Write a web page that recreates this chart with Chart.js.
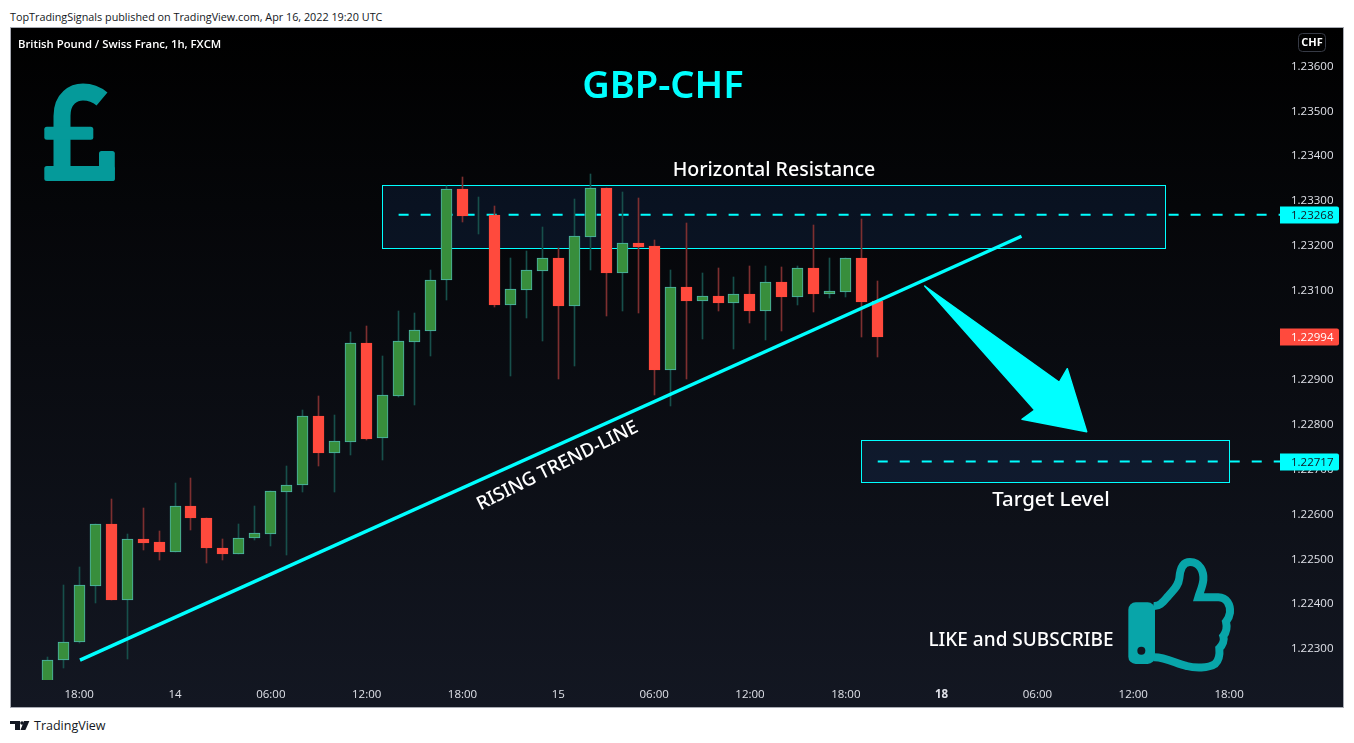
<!DOCTYPE html>
<html lang="en">
<head>
    <meta charset="UTF-8">
    <title>GBP-CHF</title>
    <style>
        body {
            margin: 0;
            background: #ffffff;
            font-family: "Open Sans", sans-serif;
            overflow: hidden;
        }

        .published {
            position: absolute;
            left: 10px;
            top: 9px;
            font-size: 10.8px;
            line-height: 15px;
            color: #131722;
            white-space: nowrap;
        }

        .pane {
            position: absolute;
            left: 10px;
            top: 27px;
            width: 1332px;
            height: 679px;
            border: 1px solid #a8abb3;
            background: linear-gradient(180deg, #000000 0%, #131722 100%);
        }

        .brand {
            position: absolute;
            left: 34px;
            top: 717px;
            font-size: 12.5px;
            line-height: 17px;
            color: #131722;
        }

        canvas, svg {
            position: absolute;
            left: 0;
            top: 0;
        }
    </style>
    <script src="https://cdn.jsdelivr.net/npm/chart.js"></script>
</head>
<body>
    <div class="published">TopTradingSignals published on TradingView.com, Apr 16, 2022 19:20 UTC</div>
    <div class="pane"></div>
    <div class="brand">TradingView</div>
    <svg width="1354" height="743">
        <!-- pound sign -->
        <g fill="#059a9a">
            <path d="M62 167 V116 C62 98 74 92 83 92 C90 92 96 94 102 99" fill="none" stroke="#059a9a" stroke-width="17"/>
            <rect x="44.3" y="126.7" width="49" height="13" rx="2.5"/>
            <rect x="44.3" y="166" width="70.5" height="15" rx="2.5"/>
            <rect x="99" y="151" width="15.8" height="30" rx="2.5"/>
        </g>
        <!-- thumbs up -->
        <g transform="translate(1120,540) scale(0.3333)">
            <path d="M100 198 C120 200 130 185 145 168 C160 150 175 140 178 115 C180 85 190 66 210 66 C240 66 252 95 250 120 C248 140 240 155 235 172 L295 172 C320 172 332 195 330 218 C328 232 322 240 318 245 C322 262 318 278 310 288 C314 300 308 315 298 325 C300 345 296 362 285 372 C265 385 225 385 200 378 C170 372 135 350 100 352"
                  fill="none" stroke="#08a5a9" stroke-width="24"/>
            <rect x="25" y="187" width="80" height="185" rx="22" fill="#08a5a9"/>
            <circle cx="64" cy="332" r="12" fill="#121620"/>
        </g>
        <!-- logo -->
        <g fill="#131722">
            <path d="M10 721 H20 V730 H15 V724 H10 Z"/>
            <circle cx="22" cy="723" r="1.8"/>
            <path d="M24 721 H29.4 L25.4 730 H20.5 Z"/>
        </g>
    </svg>
    <canvas id="chart" width="1354" height="743"></canvas>

    <script>
        // hourly candles
        const opens = [1.22207,1.22274,1.22314,1.22440,1.22577,1.22409,1.22544,1.22537,1.22516,1.22617,1.22590,1.22524,1.22511,1.22546,1.22556,1.22650,1.22664,1.22818,1.22737,1.22761,1.22981,1.22769,1.22864,1.22985,1.23009,1.23122,1.23325,1.23267,1.23267,1.23067,1.23101,1.23143,1.23171,1.23065,1.23219,1.23327,1.23139,1.23204,1.23198,1.22922,1.23106,1.23076,1.23086,1.23072,1.23090,1.23054,1.23117,1.23085,1.23148,1.23092,1.23096,1.23171,1.23075];
        const highs = [1.22280,1.22442,1.22482,1.22578,1.22633,1.22555,1.22613,1.22562,1.22669,1.22680,1.22591,1.22544,1.22578,1.22618,1.22652,1.22707,1.22832,1.22863,1.22821,1.23006,1.23020,1.22953,1.23053,1.23049,1.23145,1.23333,1.23352,1.23308,1.23288,1.23171,1.23187,1.23241,1.23193,1.23303,1.23359,1.23327,1.23318,1.23305,1.23212,1.23145,1.23250,1.23138,1.23149,1.23129,1.23154,1.23154,1.23151,1.23154,1.23245,1.23171,1.23171,1.23258,1.23120];
        const lows = [1.22200,1.22257,1.22311,1.22402,1.22409,1.22277,1.22520,1.22498,1.22516,1.22565,1.22491,1.22498,1.22511,1.22543,1.22529,1.22509,1.22648,1.22708,1.22650,1.22732,1.22765,1.22721,1.22861,1.22844,1.22953,1.23078,1.23252,1.23226,1.23063,1.22909,1.23038,1.22987,1.22902,1.22931,1.23145,1.23043,1.23054,1.23049,1.22866,1.22840,1.22902,1.22991,1.23054,1.22969,1.23027,1.22989,1.23009,1.23067,1.23052,1.23083,1.23085,1.22994,1.22951];
        const closes = [1.22274,1.22314,1.22441,1.22577,1.22409,1.22544,1.22536,1.22516,1.22617,1.22590,1.22523,1.22511,1.22546,1.22557,1.22651,1.22664,1.22818,1.22737,1.22762,1.22981,1.22768,1.22865,1.22986,1.23010,1.23122,1.23325,1.23266,1.23268,1.23067,1.23102,1.23144,1.23171,1.23065,1.23220,1.23327,1.23139,1.23204,1.23196,1.22922,1.23106,1.23076,1.23086,1.23072,1.23090,1.23054,1.23117,1.23085,1.23148,1.23092,1.23097,1.23171,1.23074,1.22994];

        const xTickPositions = [2, 8, 14, 20, 26, 32, 38, 44, 50, 56, 62, 68, 74];
        const xTickLabels = ['18:00', '14', '06:00', '12:00', '18:00', '15', '06:00', '12:00', '18:00', '18', '06:00', '12:00', '18:00'];
        const yTicks = [1.223, 1.224, 1.225, 1.226, 1.227, 1.228, 1.229, 1.230, 1.231, 1.232, 1.233, 1.234, 1.235, 1.236];

        // drawings on the chart
        const resistanceZone = { x0: 20.93, x1: 70, top: 1.23335, bottom: 1.23194 };
        const targetZone = { x0: 50.93, x1: 74, top: 1.22765, bottom: 1.22671 };
        const resistancePrice = 1.23268;
        const targetPrice = 1.22717;
        const lastPrice = 1.22994;
        const trendX = [2.05, 61];
        const trendY = [1.22274, 1.23220];

        const green = '#388e3c', greenEdge = '#4db6ac', greenWick = '#174f4b';
        const red = '#ff4a3d', redWick = '#7d2f30';
        const cyan = '#00ffff';
        const uiFont = '"Open Sans", sans-serif';
        const notoFont = '"Noto Sans", sans-serif';
        const isUp = i => closes[i] >= opens[i];

        // zones go under the candles, texts and price tags on top of everything
        const drawings = {
            id: 'drawings',
            afterDatasetsUpdate(chart) {
                // keep candles on whole pixels like the original
                chart.data.datasets.forEach((ds, d) => {
                    if (ds.type !== 'bar') return;
                    chart.getDatasetMeta(d).data.forEach(el => {
                        el.x = Math.floor(el.x) + 0.5;
                        el.y = Math.round(el.y);
                        el.base = Math.round(el.base);
                    });
                });
            },
            beforeDatasetsDraw(chart) {
                const { ctx, scales: { x, y } } = chart;
                ctx.save();
                [resistanceZone, targetZone].forEach(z => {
                    const l = Math.round(x.getPixelForValue(z.x0)) + 0.5;
                    const r = Math.round(x.getPixelForValue(z.x1)) + 0.5;
                    const t = Math.round(y.getPixelForValue(z.top)) + 0.5;
                    const b = Math.round(y.getPixelForValue(z.bottom)) + 0.5;
                    ctx.fillStyle = 'rgba(40,100,200,0.13)';
                    ctx.fillRect(l, t, r - l, b - t);
                    ctx.strokeStyle = cyan;
                    ctx.lineWidth = 1;
                    ctx.strokeRect(l, t, r - l, b - t);
                });
                ctx.restore();
            },
            afterDraw(chart) {
                const { ctx, scales: { y } } = chart;
                ctx.save();

                // arrow
                ctx.fillStyle = cyan;
                ctx.strokeStyle = cyan;
                ctx.lineWidth = 1.5;
                ctx.lineJoin = 'round';
                ctx.beginPath();
                ctx.moveTo(924.7, 286);
                ctx.lineTo(1059.3, 382.3);
                ctx.lineTo(1067.3, 368.7);
                ctx.lineTo(1086.7, 431.7);
                ctx.lineTo(1022, 419.3);
                ctx.lineTo(1034.7, 410);
                ctx.closePath();
                ctx.fill();
                ctx.stroke();

                // price tags
                const tag = (value, bg, fg) => {
                    const py = Math.round(y.getPixelForValue(value));
                    ctx.fillStyle = bg;
                    ctx.beginPath();
                    ctx.roundRect(1280, py - 8.5, 59, 17, [0, 2, 2, 0]);
                    ctx.fill();
                    ctx.fillStyle = fg;
                    ctx.font = '11.5px ' + uiFont;
                    ctx.textAlign = 'left';
                    ctx.textBaseline = 'middle';
                    ctx.fillText(value.toFixed(5), 1291, py + 1);
                };
                tag(resistancePrice, cyan, '#131722');
                tag(targetPrice, cyan, '#131722');
                tag(lastPrice, red, '#ffffff');

                // currency button
                ctx.strokeStyle = '#363a45';
                ctx.lineWidth = 1;
                ctx.beginPath();
                ctx.roundRect(1298.5, 33.5, 27, 18, 4);
                ctx.stroke();

                const label = (text, px, py, font, color, align) => {
                    ctx.font = font;
                    ctx.fillStyle = color;
                    ctx.textAlign = align || 'center';
                    ctx.textBaseline = 'middle';
                    ctx.fillText(text, px, py);
                };
                label('CHF', 1312, 42.5, 'bold 11px ' + uiFont, '#ffffff');
                label('British Pound / Swiss Franc, 1h, FXCM', 18, 45, '600 11.3px ' + uiFont, '#ffffff', 'left');
                label('GBP-CHF', 663, 87, '600 38px ' + notoFont, cyan);
                label('Horizontal Resistance', 774, 170, '500 19.6px ' + notoFont, '#ffffff');
                label('Target Level', 1051, 500, '500 20.4px ' + notoFont, '#ffffff');
                label('LIKE and SUBSCRIBE', 1021, 641, '500 19px ' + notoFont, '#ffffff');

                ctx.translate(557.5, 466);
                ctx.rotate(-26.5 * Math.PI / 180);
                label('RISING TREND-LINE', 0, 0, '500 18.8px ' + notoFont, '#ffffff');
                ctx.restore();
            }
        };

        const candleIndex = opens.map((_, i) => i);

        new Chart(document.getElementById('chart'), {
            type: 'bar',
            data: {
                datasets: [
                    {
                        type: 'line',
                        data: trendX.map((v, i) => ({ x: v, y: trendY[i] })),
                        borderColor: cyan,
                        borderWidth: 3.5,
                        pointRadius: 0,
                        order: 0
                    },
                    {
                        type: 'bar',
                        data: candleIndex.map(i => ({ x: i, y: [opens[i], closes[i]] })),
                        backgroundColor: candleIndex.map(i => isUp(i) ? green : red),
                        borderColor: candleIndex.map(i => isUp(i) ? greenEdge : red),
                        borderWidth: 1,
                        borderSkipped: false,
                        barThickness: 11,
                        grouped: false,
                        order: 1
                    },
                    {
                        type: 'bar',
                        data: candleIndex.map(i => ({ x: i, y: [lows[i], highs[i]] })),
                        backgroundColor: candleIndex.map(i => isUp(i) ? greenWick : redWick),
                        borderWidth: 0,
                        barThickness: 1,
                        grouped: false,
                        order: 2
                    },
                    {
                        type: 'line',
                        data: [{ x: 22, y: resistancePrice }, { x: 77.25, y: resistancePrice }],
                        borderColor: cyan,
                        borderWidth: 2,
                        borderDash: [10, 12],
                        pointRadius: 0,
                        order: 3
                    },
                    {
                        type: 'line',
                        data: [{ x: 52, y: targetPrice }, { x: 77.25, y: targetPrice }],
                        borderColor: cyan,
                        borderWidth: 2,
                        borderDash: [10, 12],
                        pointRadius: 0,
                        order: 3
                    }
                ]
            },
            options: {
                responsive: false,
                animation: false,
                layout: { padding: { left: 11, top: 28, right: 0, bottom: 35 } },
                plugins: { legend: { display: false }, tooltip: { enabled: false } },
                scales: {
                    x: {
                        type: 'linear',
                        offset: false,
                        min: -2.27,
                        max: 77.25,
                        grid: { display: false, offset: false },
                        border: { display: false },
                        afterFit: scale => { scale.height = 28; },
                        afterBuildTicks: scale => { scale.ticks = xTickPositions.map(v => ({ value: v })); },
                        ticks: {
                            autoSkip: false,
                            maxRotation: 0,
                            padding: 0,
                            color: '#dfe1e8',
                            font: ctx => ({ family: uiFont, size: 11.5, weight: ctx.tick && ctx.tick.value === 56 ? 'bold' : 'normal' }),
                            callback: v => xTickLabels[xTickPositions.indexOf(v)]
                        }
                    },
                    y: {
                        position: 'right',
                        min: 1.2222946,
                        max: 1.2368482,
                        grid: { display: false },
                        border: { display: false },
                        afterFit: scale => { scale.width = 73; },
                        afterBuildTicks: scale => { scale.ticks = yTicks.map(v => ({ value: v })); },
                        ticks: {
                            autoSkip: false,
                            padding: 2,
                            labelOffset: 0.5,
                            color: '#dfe1e8',
                            font: { family: uiFont, size: 11.5 },
                            callback: v => v.toFixed(5)
                        }
                    }
                }
            },
            plugins: [drawings]
        });
    </script>
</body>
</html>
